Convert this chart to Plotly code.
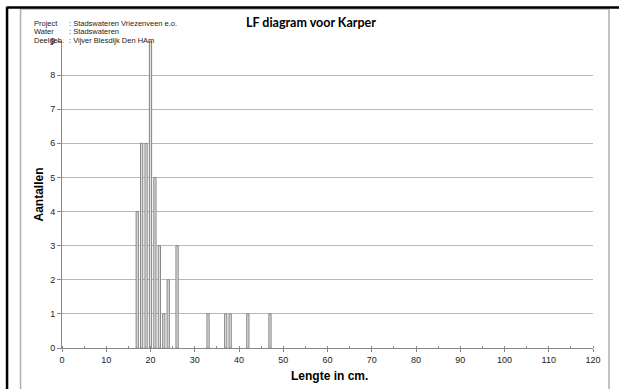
import plotly.graph_objects as go

lengths = [17, 18, 19, 20, 21, 22, 23, 24, 26, 33, 37, 38, 42, 47]
counts = [4, 6, 6, 9, 5, 3, 1, 2, 3, 1, 1, 1, 1, 1]
x_ticks = list(range(0, 121, 10))
y_ticks = list(range(0, 10))

W, H = 619, 389
L, R, T, B = 61.5, 593, 41, 348


def px(x):
    return (x - L) / (R - L)


def py(y):
    return (B - y) / (B - T)


fig = go.Figure()
fig.add_trace(go.Bar(
    x=lengths, y=counts, width=0.5,
    marker=dict(color="#e0e0e0", line=dict(color="#858585", width=1)),
))

shapes = [
    dict(type="rect", xref="paper", yref="paper", x0=px(20), x1=px(609), y0=py(400), y1=py(9),
         line=dict(color="#b0b0b0", width=1.5), layer="below"),
    dict(type="line", xref="paper", yref="paper", x0=px(6), x1=px(625), y0=py(7.5), y1=py(7.5),
         line=dict(color="black", width=2.5)),
    dict(type="line", xref="paper", yref="paper", x0=px(6.5), x1=px(6.5), y0=py(7), y1=py(400),
         line=dict(color="black", width=2.5)),
]

annotations = [
    dict(text="<b>LF diagram voor Karper</b>", x=px(311), y=py(23), xref="paper", yref="paper",
         showarrow=False, font=dict(family="Lato", size=12.5, color="black"), xanchor="center", yanchor="middle"),
    dict(text="<b>Aantallen</b>", x=px(38), y=py(195), xref="paper", yref="paper", textangle=-90,
         showarrow=False, font=dict(family="Liberation Sans", size=12, color="black"), xanchor="center", yanchor="middle"),
    dict(text="<b>Lengte in cm.</b>", x=px(329), y=py(376), xref="paper", yref="paper",
         showarrow=False, font=dict(family="Liberation Sans", size=12, color="black"), xanchor="center", yanchor="middle"),
]
info = [("Project", ": Stadswateren Vriezenveen e.o.", 24),
        ("Water", ": Stadswateren", 32),
        ("Deelgeb.", ": Vijver Blesdijk Den HAm", 40)]
for lab, val, yy in info:
    annotations.append(dict(text=lab, x=px(31), y=py(yy), xref="paper", yref="paper", showarrow=False,
                            font=dict(family="Liberation Sans", size=7.5, color="#222"), xanchor="left", yanchor="middle"))
    annotations.append(dict(text=val, x=px(67), y=py(yy), xref="paper", yref="paper", showarrow=False,
                            font=dict(family="Liberation Sans", size=7.5, color="#222"), xanchor="left", yanchor="middle"))

fig.update_layout(
    width=W, height=H,
    margin=dict(l=L, r=W - R, t=T, b=H - B),
    paper_bgcolor="white", plot_bgcolor="white",
    showlegend=False,
    shapes=shapes, annotations=annotations,
    xaxis=dict(range=[0, 120], tickvals=x_ticks, ticks="outside", ticklen=3, tickcolor="#888",
               showline=True, linecolor="#888", linewidth=1, showgrid=False, zeroline=False,
               minor=dict(dtick=5, ticks="inside", ticklen=2, tickcolor="#888"),
               tickfont=dict(family="Liberation Sans", size=9, color="#222")),
    yaxis=dict(range=[0, 9], tickvals=y_ticks, ticks="outside", ticklen=4, tickcolor="#888",
               showline=True, linecolor="#888", linewidth=1, showgrid=True, gridcolor="#b8b8b8",
               zeroline=False, tickfont=dict(family="Liberation Sans", size=9, color="#222")),
)

fig.write_html("out.html", config={"displayModeBar": False},
               post_script="document.body.style.margin='0';document.body.style.overflow='hidden';")
